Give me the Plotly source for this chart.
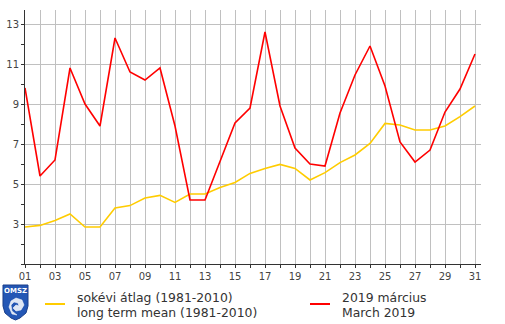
import plotly.graph_objects as go

days = list(range(1, 32))
day_labels = [f"{d:02d}" for d in days]

march_2019 = [9.8, 5.4, 6.2, 10.8, 9.0, 7.9, 12.3, 10.6, 10.2, 10.8,
              7.9, 4.2, 4.2, 6.1, 8.05, 8.8, 12.6, 8.9, 6.8, 6.0,
              5.9, 8.55, 10.45, 11.9, 9.9, 7.1, 6.1, 6.7, 8.6, 9.75, 11.5]

long_term_mean = [2.85, 2.93, 3.17, 3.5, 2.85, 2.85, 3.8, 3.92, 4.3, 4.43,
                  4.08, 4.5, 4.5, 4.82, 5.08, 5.53, 5.78, 5.98, 5.78, 5.2,
                  5.57, 6.07, 6.45, 7.03, 8.03, 7.95, 7.7, 7.7, 7.9, 8.37, 8.9]

y_ticks = [3, 5, 7, 9, 11, 13]

W, H = 505, 324
L, R, T, B = 25, 24, 10, 60
PW, PH = W - L - R, H - T - B


def px(x):
    return (x - L) / PW


def py(y):
    return (H - B - y) / PH


fig = go.Figure()
fig.add_trace(go.Scatter(x=days, y=long_term_mean, mode="lines",
                         line=dict(color="#ffcc00", width=1.6),
                         showlegend=False, hoverinfo="skip"))
fig.add_trace(go.Scatter(x=days, y=march_2019, mode="lines",
                         line=dict(color="#ff0000", width=1.6),
                         showlegend=False, hoverinfo="skip"))

grid = "#c0c0c0"
axis_col = "#333333"
font_fam = "DejaVu Sans, Verdana, sans-serif"

fig.update_xaxes(
    range=[1, 31.4],
    tickvals=days[::2], ticktext=day_labels[::2],
    ticks="outside", ticklen=3, tickcolor=axis_col,
    showgrid=True, gridcolor=grid, gridwidth=1,
    minor=dict(dtick=1, tick0=1, ticks="outside", ticklen=3, tickcolor=axis_col,
               showgrid=True, gridcolor=grid, gridwidth=1),
    showline=True, linecolor=axis_col, linewidth=1,
    zeroline=False, automargin=False,
    tickfont=dict(family=font_fam, size=10, color="#444444"),
    fixedrange=True,
)
fig.update_yaxes(
    range=[1, 13.7],
    tickvals=y_ticks, ticktext=[str(v) for v in y_ticks],
    ticks="outside", ticklen=3, tickcolor=axis_col,
    showgrid=True, gridcolor=grid, gridwidth=1,
    minor=dict(dtick=1, tick0=1, ticks="outside", ticklen=3, tickcolor=axis_col,
               showgrid=False),
    showline=True, linecolor=axis_col, linewidth=1,
    zeroline=False, automargin=False,
    tickfont=dict(family=font_fam, size=10, color="#444444"),
    fixedrange=True,
)

shapes = []
annotations = []

# Legend samples
shapes.append(dict(type="line", xref="paper", yref="paper",
                   x0=px(45), x1=px(65), y0=py(304), y1=py(304),
                   line=dict(color="#ffcc00", width=2)))
shapes.append(dict(type="line", xref="paper", yref="paper",
                   x0=px(310), x1=px(330), y0=py(304), y1=py(304),
                   line=dict(color="#ff0000", width=2)))

legend_font = dict(family=font_fam, size=12.4, color="#333333")
for x0, lines in [(75, ["sokévi átlag (1981-2010)", "long term mean (1981-2010)"]),
                  (340, ["2019 március", "March 2019"])]:
    for i, txt in enumerate(lines):
        annotations.append(dict(text=txt, xref="paper", yref="paper",
                                x=px(x0), y=py(297 + 15 * i),
                                xanchor="left", yanchor="middle",
                                showarrow=False, font=legend_font))

# OMSZ logo (approximation)
def path_pts(pts):
    s = "M" + " L".join(f"{px(a):.5f},{py(b):.5f}" for a, b in pts) + " Z"
    return s

shield = [(3, 285), (28, 285), (28, 306), (26, 313), (20, 318), (15.5, 320),
          (11, 318), (5, 313), (3, 306)]
shapes.append(dict(type="path", xref="paper", yref="paper",
                   path=path_pts(shield), fillcolor="#2457b5",
                   line=dict(color="#1a3f8a", width=1)))
swirl = [(9, 307), (11, 301), (16, 298), (22, 300), (24, 305), (21, 310),
         (16, 311), (13, 308), (16, 305), (19, 306), (18, 303), (14, 302),
         (11, 305), (12, 311), (17, 315), (12, 314)]
shapes.append(dict(type="path", xref="paper", yref="paper",
                   path=path_pts(swirl), fillcolor="rgba(255,255,255,0.85)",
                   line=dict(color="white", width=0.5)))
annotations.append(dict(text="<b>OMSZ</b>", xref="paper", yref="paper",
                        x=px(15.5), y=py(291), xanchor="center", yanchor="middle",
                        showarrow=False,
                        font=dict(family=font_fam, size=7, color="white")))

fig.update_layout(
    width=W, height=H,
    margin=dict(l=L, r=R, t=T, b=B, pad=0),
    paper_bgcolor="white", plot_bgcolor="white",
    shapes=shapes, annotations=annotations,
    showlegend=False,
)

fig.write_html("out.html",
               config={"displayModeBar": False, "staticPlot": True},
               post_script="document.body.style.margin='0';document.body.style.overflow='hidden';")
